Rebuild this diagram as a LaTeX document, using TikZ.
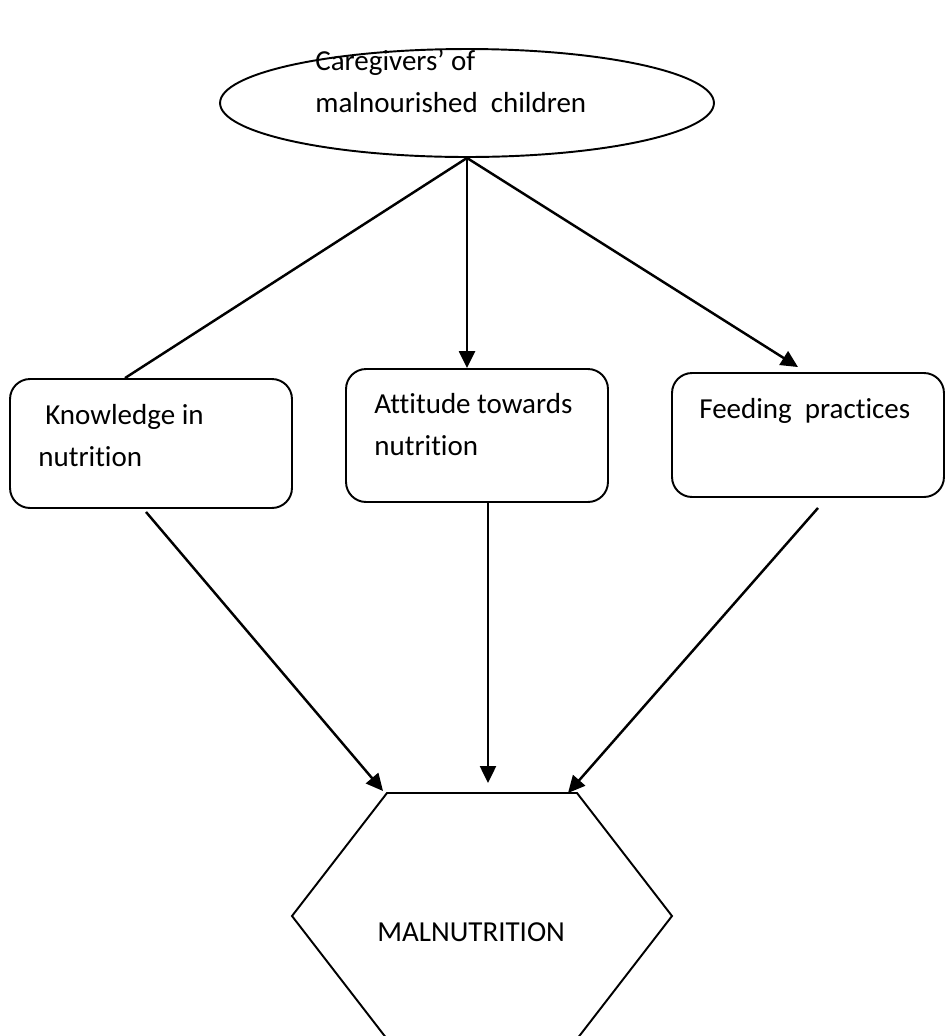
\documentclass[tikz,border=0pt]{standalone}
\usepackage{fontspec}
\setmainfont[Ligatures=NoCommon]{Carlito}
\usetikzlibrary{shapes.geometric,arrows.meta}

\begin{document}
\begin{tikzpicture}[x=0.02cm,y=-0.02cm,
	box/.style={draw,rounded corners=0.4cm,line width=1.1pt,inner sep=0pt},
	txt/.style={anchor=base west,align=left,inner sep=0pt,font=\fontsize{16.5}{23.5}\selectfont},
	arr/.style={line width=1.4pt,-{Triangle[length=0.34cm,width=0.32cm]}}]
	\useasboundingbox (0,0) rectangle (945,1036);
		% shapes
		\node[draw,ellipse,line width=1.1pt,minimum width=9.88cm,minimum height=2.16cm,inner sep=0pt] (care) at (467,103) {};
		\node[box,minimum width=5.64cm,minimum height=2.58cm] (know) at (151,443.5) {};
		\node[box,minimum width=5.24cm,minimum height=2.66cm] (att) at (477,435.5) {};
		\node[box,minimum width=5.44cm,minimum height=2.48cm] (feed) at (808,435) {};
		\foreach \n/\x/\y in {h1/387/793,h2/577/793,h3/672/916,h4/577/1039,h5/387/1039,h6/292/916}{
			\coordinate (\n) at (\x,\y);
		}
		\draw[line width=1.1pt] (h1) -- (h2) -- (h3) -- (h4) -- (h5) -- (h6) -- cycle;
		% texts (base = last line)
		\node[txt] (caretxt) at (315,112) {Caregivers’ of\\malnourished~ children};
		\node[txt] (knowtxt) at (38,466) {\hspace{0.14cm}Knowledge in\\nutrition};
		\node[txt] (atttxt) at (374,455) {Attitude towards\\nutrition};
		\node[txt] (feedtxt) at (699,418) {Feeding~ practices};
		\node[txt] (mal) at (377,941) {MALNUTRITION};
		% connectors
		\draw[line width=1.4pt] (care.south) -- ([xshift=-0.52cm]know.north);
		\draw[arr] (care.south) -- (care.south |- att.north);
		\draw[arr] (care.south) -- ([xshift=-0.2cm,yshift=0.1cm]feed.north);
		\draw[arr] ([xshift=-0.1cm,yshift=-0.06cm]know.south) -- ([xshift=-0.08cm,yshift=0.04cm]h1);
		\draw[arr] ([xshift=0.22cm]att.south) -- ([xshift=0.22cm,yshift=0.2cm]att.south |- h1);
		\draw[arr] ([xshift=0.2cm,yshift=-0.2cm]feed.south) -- ([xshift=-0.18cm]h2);
	\end{tikzpicture}
\end{document}
